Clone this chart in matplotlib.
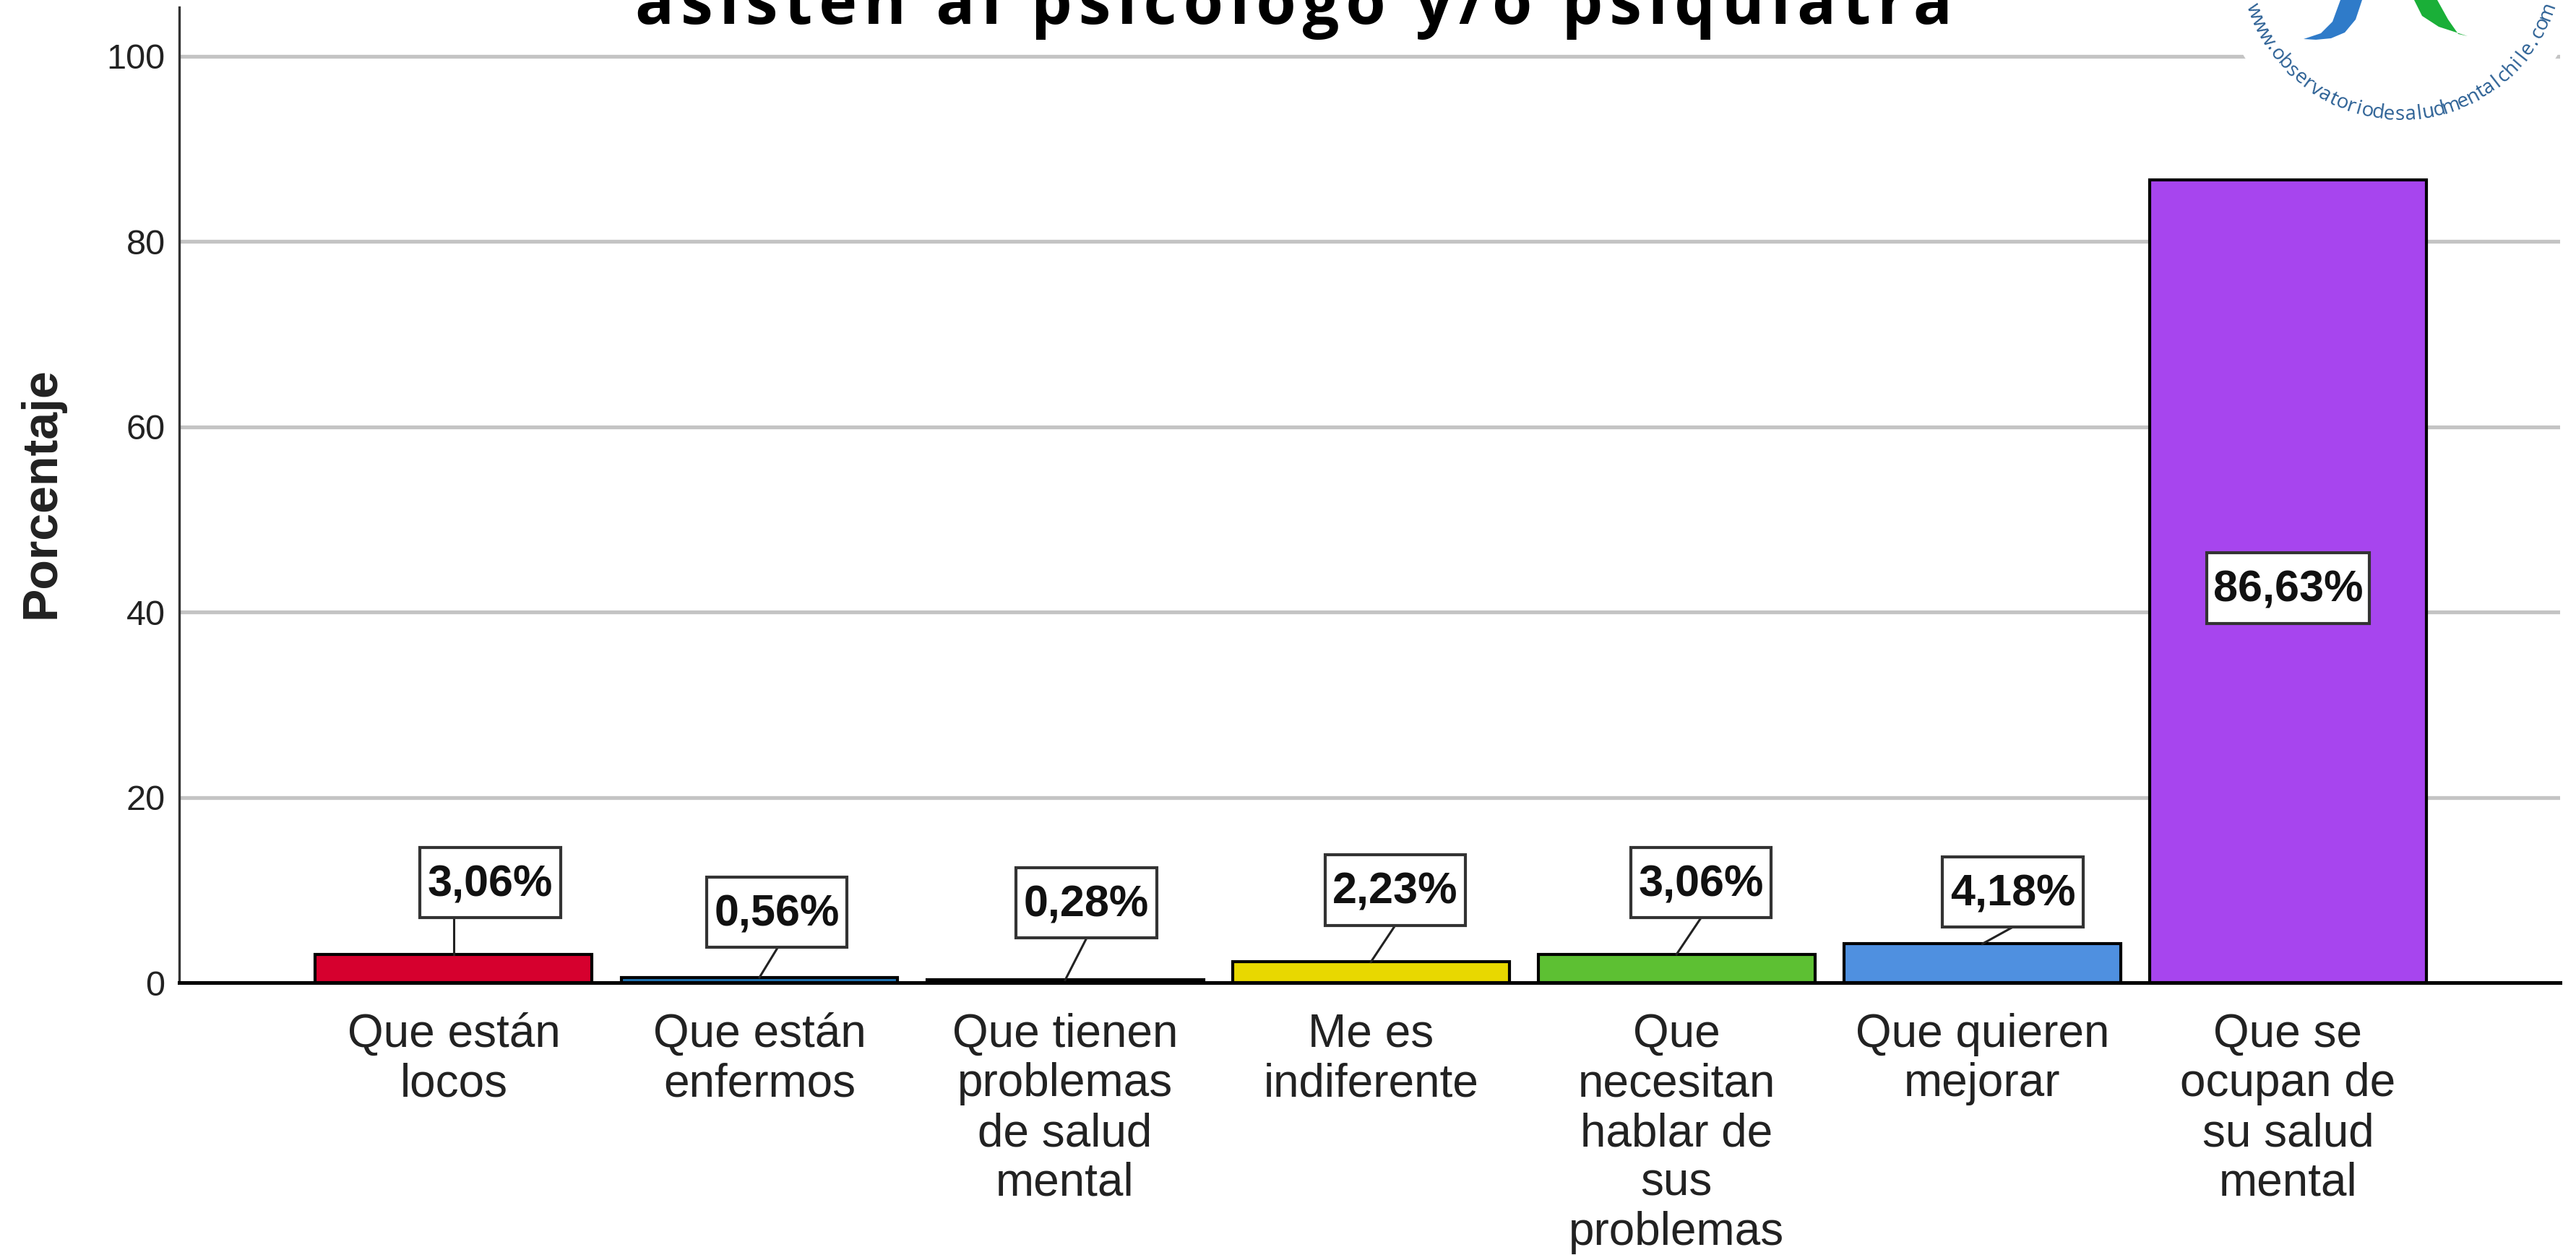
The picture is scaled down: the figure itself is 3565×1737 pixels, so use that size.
import numpy as np
import matplotlib
matplotlib.use('Agg')
import matplotlib.pyplot as plt
from matplotlib.patches import Rectangle, Circle, Polygon

# Datos
categorias = ['Que están\nlocos', 'Que están\nenfermos', 'Que tienen\nproblemas\nde salud\nmental',
              'Me es\nindiferente', 'Que\nnecesitan\nhablar de\nsus\nproblemas', 'Que quieren\nmejorar',
              'Que se\nocupan de\nsu salud\nmental']
valores = [3.06, 0.56, 0.28, 2.23, 3.06, 4.18, 86.63]
etiquetas = ['3,06%', '0,56%', '0,28%', '2,23%', '3,06%', '4,18%', '86,63%']
colores = ['#d6002e', '#2075b5', '#2a2a60', '#e8d800', '#5dc033', '#4f90e0', '#a745ee']
yticks = [0, 20, 40, 60, 80, 100]

# centro de las cajas de las etiquetas
caja_x = [0.12, 1.057, 2.07, 3.08, 4.08, 5.10, 6.0]
caja_y = [10.8, 7.6, 8.6, 10.0, 10.8, 9.8, 42.6]
caja_w = [0.46, 0.46, 0.46, 0.46, 0.46, 0.46, 0.53]
caja_h = 7.6
linea_x = [0.0, 1.06, 2.07, 3.08, 4.08, 5.10]

titulo = '\u200a'.join('asisten al psicólogo y/o psiquiatra')
url = 'www.observatoriodesaludmentalchile.com'

W, H = 3565, 1737
fig = plt.figure(figsize=(W/100, H/100), dpi=100)
ax = fig.add_axes([248/W, 1-1360/H, (3543-248)/W, 1350/H])
sans = ['Liberation Sans', 'DejaVu Sans']

x = np.arange(len(valores))
ax.bar(x, valores, width=0.905, color=colores, edgecolor='black', linewidth=3, zorder=3)
ax.set_xlim(-0.898, 6.89)
ax.set_ylim(0, 105.3)
ax.set_yticks(yticks)
ax.set_xticks(x)
ax.set_xticklabels(categorias, family=sans, fontsize=46, color='#222222', linespacing=1.185)
ax.tick_params(axis='x', length=0, pad=30)
ax.tick_params(axis='y', length=0, pad=14, labelsize=35, labelcolor='#222222')
for t in ax.get_yticklabels():
    t.set_family(sans)
ax.grid(axis='y', color='#c4c4c4', linewidth=3.8, zorder=0)
ax.set_axisbelow(True)
for s in ['top', 'right']:
    ax.spines[s].set_visible(False)
ax.spines['left'].set_linewidth(2.4)
ax.spines['left'].set_color('#333333')
ax.spines['bottom'].set_linewidth(3.6)
ax.spines['bottom'].set_zorder(4)
fig.text(57/W, 1-682/H, 'Porcentaje', rotation=90, ha='center', va='center',
         family=sans, fontweight='bold', fontsize=49, color='#222222')

for i, et in enumerate(etiquetas):
    if i < len(linea_x):
        ax.plot([i, linea_x[i]], [valores[i], caja_y[i]-caja_h/2], color='#222222', lw=2.2, zorder=4)
    ax.add_patch(Rectangle((caja_x[i]-caja_w[i]/2, caja_y[i]-caja_h/2), caja_w[i], caja_h,
                           facecolor='white', edgecolor='#333333', linewidth=3, zorder=5))
    ax.text(caja_x[i], caja_y[i]-0.25, et, ha='center', va='center', family=sans, fontweight='bold',
            fontsize=44, color='#111111', zorder=6)

# capa en pixeles para titulo y logo
top = fig.add_axes([0, 0, 1, 1], zorder=10)
top.set_xlim(0, W)
top.set_ylim(H, 0)
top.axis('off')
top.patch.set_alpha(0)
top.text(1790, 33, titulo, ha='center', va='baseline', family=['Open Sans', 'DejaVu Sans'],
         fontweight='bold', fontsize=64.5, color='black')

cx, cy, R = 3322, -57, 223
top.add_patch(Circle((cx, cy), 255, facecolor='white', edgecolor='none', clip_on=False))
top.add_patch(Polygon([(3188, 54), (3212, 46), (3228, 30), (3239, 0), (3269, 0), (3260, 27),
                       (3245, 45), (3226, 53), (3205, 55)], facecolor='#2f7bc9', edgecolor='none'))
top.add_patch(Polygon([(3341, 0), (3352, 22), (3375, 37), (3415, 50), (3402, 47), (3388, 27),
                       (3373, 0)], facecolor='#1aaf38', edgecolor='none'))
pesos = np.array([0.7 if c in '.ilt' else 0.8 if c == 'r' else 1.35 if c in 'wm' else 1.0 for c in url])
acum = np.cumsum(pesos) - pesos/2
angulos = -73 + 146*acum/pesos.sum()
for c, a in zip(url, angulos):
    th = np.radians(a)
    top.text(cx + R*np.sin(th), cy + R*np.cos(th), c, rotation=a, rotation_mode='anchor',
             ha='center', va='baseline', family=['Open Sans', 'DejaVu Sans'], fontsize=20, color='#2a5f94')

plt.savefig('out.png', dpi=100)
